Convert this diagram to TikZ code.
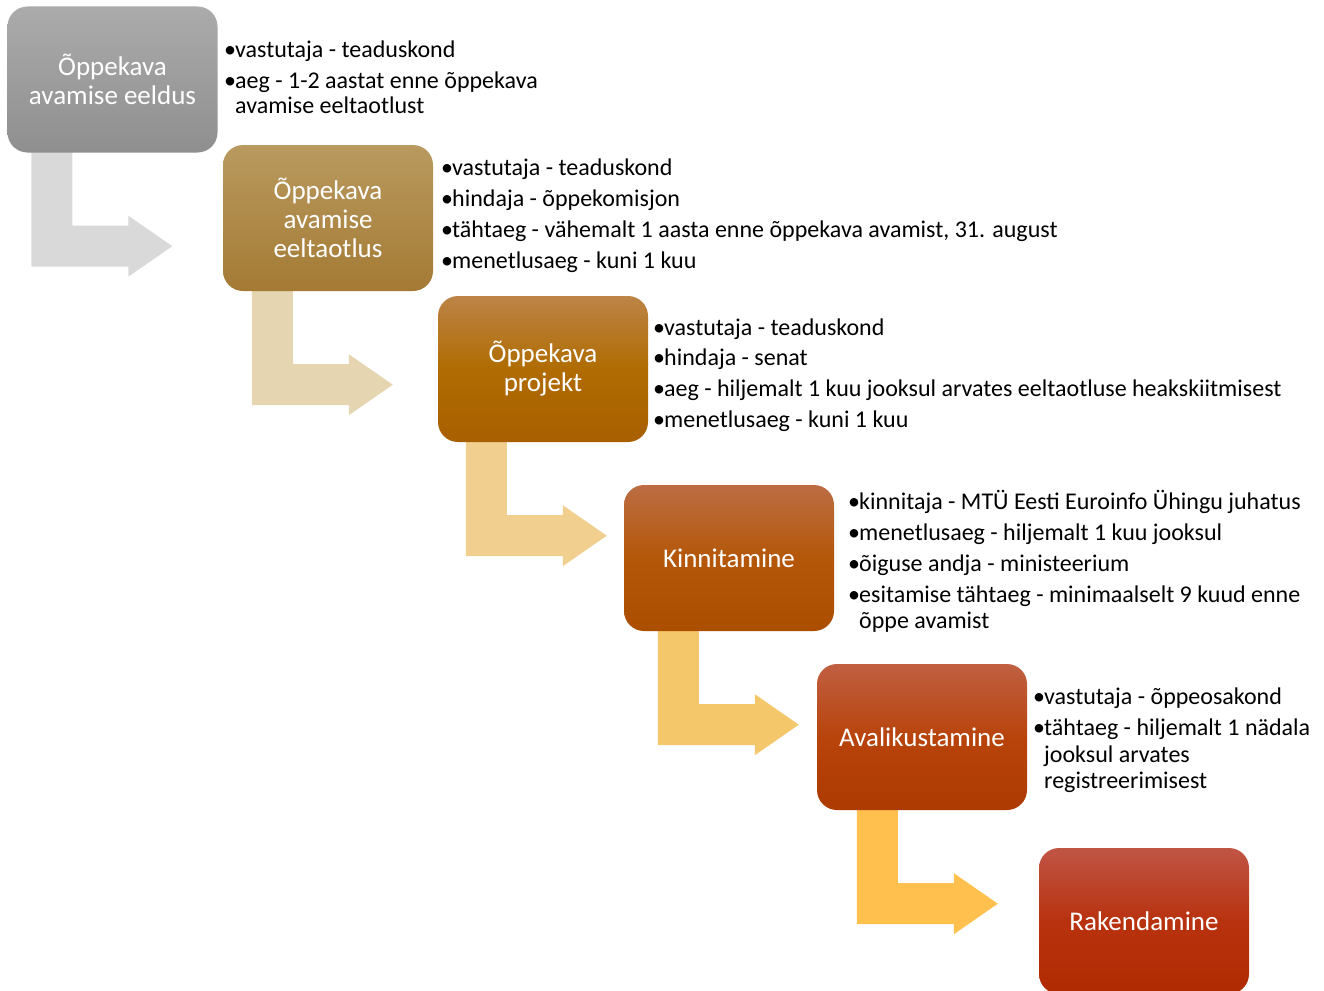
\documentclass[tikz,border=0pt]{standalone}
\usepackage{fontspec}
\setmainfont{Carlito}
\usetikzlibrary{calc}
\definecolor{aone}{HTML}{D9D9D9}
\definecolor{atwo}{HTML}{E5D5B1}
\definecolor{athree}{HTML}{F0CF8F}
\definecolor{afour}{HTML}{F5C76B}
\definecolor{afive}{HTML}{FFC04D}
\newcommand\bentarrow[3]{%
  \fill[#1] ($(#2.south west)+(#3,-3)$) -- ++(0,117) -- ++(97,0) -- ++(0,10)
    -- ++(44,-30.5) -- ++(-44,-30.5) -- ++(0,10) -- ++(-56,0) -- ++(0,-76) -- cycle;}
\begin{document}
\begin{tikzpicture}[x=1pt,y=-1pt,
  box/.style={rounded corners=20pt, minimum width=210pt, minimum height=146pt,
    inner sep=0pt, text=white, font=\fontsize{27}{29}\selectfont, align=center},
  bul/.style={anchor=base west, inner sep=0pt, font=\fontsize{24}{25}\selectfont, text=black}]
\useasboundingbox (0,0) rectangle (1324,990);
\pgfdeclarelayer{back}\pgfsetlayers{back,main}
\node[box, top color=black!33, bottom color=black!44] (b1) at (112.5,79.5) {Õppekava\\avamise eeldus};
\node[box, top color={rgb,255:red,185;green,154;blue,95}, bottom color={rgb,255:red,164;green,122;blue,52}] (b2) at (328,218) {Õppekava\\avamise\\eeltaotlus};
\node[box, top color={rgb,255:red,188;green,132;blue,71}, bottom color={rgb,255:red,168;green,95;blue,0}, middle color={rgb,255:red,176;green,108;blue,2}] (b3) at (543,369) {Õppekava\\projekt};
\node[box, top color={rgb,255:red,188;green,109;blue,67}, bottom color={rgb,255:red,172;green,78;blue,0}, middle color={rgb,255:red,180;green,87;blue,9}] (b4) at (729,558) {Kinnitamine};
\node[box, top color={rgb,255:red,192;green,95;blue,66}, bottom color={rgb,255:red,173;green,58;blue,0}, middle color={rgb,255:red,184;green,68;blue,12}] (b5) at (922,737) {Avalikustamine};
\node[box, top color={rgb,255:red,192;green,85;blue,69}, bottom color={rgb,255:red,176;green,42;blue,0}, middle color={rgb,255:red,184;green,50;blue,15}] (b6) at (1144,921) {Rakendamine};
\begin{pgfonlayer}{back}
\bentarrow{aone}{b1}{24}
\bentarrow{atwo}{b2}{29}
\bentarrow{athree}{b3}{28}
\bentarrow{afour}{b4}{34}
\bentarrow{afive}{b5}{40}
\end{pgfonlayer}
% bullet texts
\node[bul] (t11) at (224,57) {\makebox[11pt][l]{•}vastutaja - teaduskond};
\node[bul] (t12) at (224,88) {\makebox[11pt][l]{•}aeg - 1-2 aastat enne õppekava};
\node[bul] (t13) at (235,113) {avamise eeltaotlust};
\node[bul] (t21) at (441,175) {\makebox[11pt][l]{•}vastutaja - teaduskond};
\node[bul] (t22) at (441,206) {\makebox[11pt][l]{•}hindaja - õppekomisjon};
\node[bul] (t23) at (441,237) {\makebox[11pt][l]{•}tähtaeg - vähemalt 1 aasta enne õppekava avamist, 31. august};
\node[bul] (t24) at (441,268) {\makebox[11pt][l]{•}menetlusaeg - kuni 1 kuu};
\node[bul] (t31) at (653,335) {\makebox[11pt][l]{•}vastutaja - teaduskond};
\node[bul] (t32) at (653,365) {\makebox[11pt][l]{•}hindaja - senat};
\node[bul] (t33) at (653,396) {\makebox[11pt][l]{•}aeg - hiljemalt 1 kuu jooksul arvates eeltaotluse heakskiitmisest};
\node[bul] (t34) at (653,427) {\makebox[11pt][l]{•}menetlusaeg - kuni 1 kuu};
\node[bul] (t41) at (848,509) {\makebox[11pt][l]{•}kinnitaja - MTÜ Eesti Euroinfo Ühingu juhatus};
\node[bul] (t42) at (848,540) {\makebox[11pt][l]{•}menetlusaeg - hiljemalt 1 kuu jooksul};
\node[bul] (t43) at (848,571) {\makebox[11pt][l]{•}õiguse andja - ministeerium};
\node[bul] (t44) at (848,602) {\makebox[11pt][l]{•}esitamise tähtaeg - minimaalselt 9 kuud enne};
\node[bul] (t45) at (859,628) {õppe avamist};
\node[bul] (t51) at (1033,704) {\makebox[11pt][l]{•}vastutaja - õppeosakond};
\node[bul] (t52) at (1033,735) {\makebox[11pt][l]{•}tähtaeg - hiljemalt 1 nädala};
\node[bul] (t53) at (1044,762) {jooksul arvates};
\node[bul] (t54) at (1044,788) {registreerimisest};
\end{tikzpicture}
\end{document}
